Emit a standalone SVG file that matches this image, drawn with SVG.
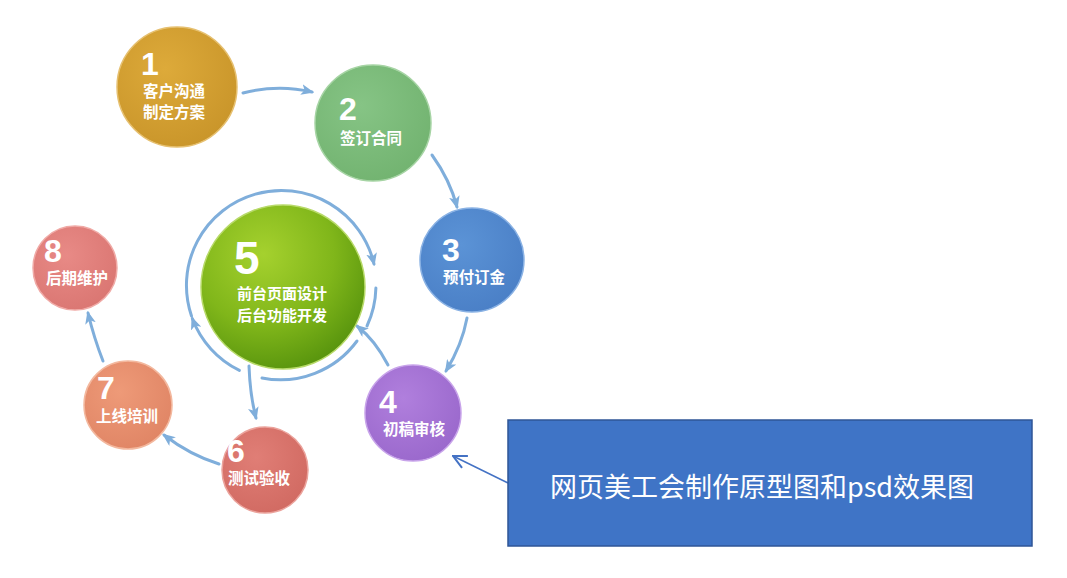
<svg xmlns="http://www.w3.org/2000/svg" width="1067" height="578" viewBox="0 0 1067 578">
<style>
.num{font-family:"Liberation Sans","Noto Sans CJK SC",sans-serif;font-weight:bold;fill:#fff;font-size:32px}
.lbl{font-family:"Noto Sans CJK SC","Liberation Sans",sans-serif;font-weight:bold;fill:#fff;font-size:15.5px}
.con{fill:none;stroke:#7FAEDB;stroke-width:3;stroke-linecap:round}
.ring{fill:none;stroke:#7FAEDB;stroke-width:3;stroke-linecap:round}
</style>
<defs>
<marker id="ah" viewBox="0 0 12 10" refX="10" refY="5" markerWidth="13" markerHeight="11" markerUnits="userSpaceOnUse" orient="auto">
<path d="M0,0 L12,5 L0,10 L3,5 Z" fill="#7FAEDB"/>
</marker>
<marker id="open" viewBox="0 0 12 12" refX="11" refY="6" markerWidth="16" markerHeight="16" markerUnits="userSpaceOnUse" orient="auto">
<path d="M1,1 L11,6 L1,11" fill="none" stroke="#4472C4" stroke-width="1.5"/>
</marker>
<radialGradient id="g1" cx="40%" cy="35%" r="70%"><stop offset="0" stop-color="#DDAA3A"/><stop offset="1" stop-color="#C9952A"/></radialGradient>
<radialGradient id="g2" cx="40%" cy="35%" r="70%"><stop offset="0" stop-color="#86C485"/><stop offset="1" stop-color="#72B370"/></radialGradient>
<radialGradient id="g3" cx="40%" cy="35%" r="70%"><stop offset="0" stop-color="#5B93D6"/><stop offset="1" stop-color="#4A7FC6"/></radialGradient>
<radialGradient id="g4" cx="40%" cy="35%" r="70%"><stop offset="0" stop-color="#B07FDD"/><stop offset="1" stop-color="#9A68CC"/></radialGradient>
<radialGradient id="g5" cx="38%" cy="30%" r="72%"><stop offset="0" stop-color="#A5D12E"/><stop offset="0.6" stop-color="#80B61A"/><stop offset="1" stop-color="#5A960E"/></radialGradient>
<radialGradient id="g6" cx="40%" cy="35%" r="70%"><stop offset="0" stop-color="#E07E76"/><stop offset="1" stop-color="#D16A62"/></radialGradient>
<radialGradient id="g7" cx="40%" cy="35%" r="70%"><stop offset="0" stop-color="#EE9A78"/><stop offset="1" stop-color="#E08565"/></radialGradient>
<radialGradient id="g8" cx="40%" cy="35%" r="70%"><stop offset="0" stop-color="#E88A86"/><stop offset="1" stop-color="#DA7672"/></radialGradient>
</defs>
<rect width="1067" height="578" fill="#fff"/>

<g id="connectors">
<path class="con" d="M243,93 Q278,84 312,92" marker-end="url(#ah)"/>
<path class="con" d="M432,155 Q450,180 457,207" marker-end="url(#ah)"/>
<path class="con" d="M467,318 Q462,345 446,371" marker-end="url(#ah)"/>
<path class="con" d="M388,365 Q375,340 357,326" marker-end="url(#ah)"/>
<path class="con" d="M249,366 Q250,395 256,418" marker-end="url(#ah)"/>
<path class="con" d="M219,464 Q190,455 164,435" marker-end="url(#ah)"/>
<path class="con" d="M103,361 Q94,338 88,313" marker-end="url(#ah)"/>
<path class="ring" d="M239.4,370.4 A95,95 0 0 1 192.3,318.5" marker-end="url(#ah)"/>
<path class="ring" d="M191.5,316 A95,95 0 1 1 374,264" marker-end="url(#ah)"/>
<path class="ring" d="M375.9,288 A95,95 0 0 1 367,326"/>
<path class="ring" d="M357,341 A95,95 0 0 1 262,378"/>
<path d="M508,483 L453,456" fill="none" stroke="#4472C4" stroke-width="1.5" marker-end="url(#open)"/>
</g>

<g id="n1"><circle cx="177" cy="87" r="60" fill="url(#g1)" stroke="#E6C070" stroke-width="1.5"/>
<text class="num" x="141" y="75">1</text>
<text class="lbl" x="143" y="97">客户沟通</text>
<text class="lbl" x="143" y="118">制定方案</text></g>

<g id="n2"><circle cx="373" cy="123" r="58" fill="url(#g2)" stroke="#A6D4A4" stroke-width="1.5"/>
<text class="num" x="339" y="120">2</text>
<text class="lbl" x="340" y="144">签订合同</text></g>

<g id="n3"><circle cx="472" cy="260" r="52" fill="url(#g3)" stroke="#8AB2E4" stroke-width="1.5"/>
<text class="num" x="442" y="261">3</text>
<text class="lbl" x="443" y="283">预付订金</text></g>

<g id="n4"><circle cx="413" cy="413" r="48" fill="url(#g4)" stroke="#C8A4EA" stroke-width="1.5"/>
<text class="num" x="379" y="413">4</text>
<text class="lbl" x="383" y="435">初稿审核</text></g>

<g id="n5"><circle cx="283" cy="287" r="82" fill="url(#g5)" stroke="#B8DA6A" stroke-width="1.5"/>
<text class="num" x="234" y="274" style="font-size:46px">5</text>
<text class="lbl" x="237" y="299" style="font-size:15px">前台页面设计</text>
<text class="lbl" x="237" y="321" style="font-size:15px">后台功能开发</text></g>

<g id="n6"><circle cx="265" cy="470" r="43" fill="url(#g6)" stroke="#EBA39C" stroke-width="1.5"/>
<text class="num" x="227" y="462">6</text>
<text class="lbl" x="228" y="484">测试验收</text></g>

<g id="n7"><circle cx="128" cy="405" r="44" fill="url(#g7)" stroke="#F3B89E" stroke-width="1.5"/>
<text class="num" x="97" y="399">7</text>
<text class="lbl" x="96" y="422">上线培训</text></g>

<g id="n8"><circle cx="75" cy="268" r="42" fill="url(#g8)" stroke="#F0AAA6" stroke-width="1.5"/>
<text class="num" x="44" y="262">8</text>
<text class="lbl" x="46" y="284">后期维护</text></g>

<g id="note"><rect x="508" y="420" width="524" height="126" fill="#3F74C6" stroke="#2F5597" stroke-width="1.5"/>
<text x="762" y="497" text-anchor="middle" font-family="Noto Sans CJK SC, Liberation Sans, sans-serif" font-size="27" fill="#fff">网页美工会制作原型图和psd效果图</text></g>
</svg>
